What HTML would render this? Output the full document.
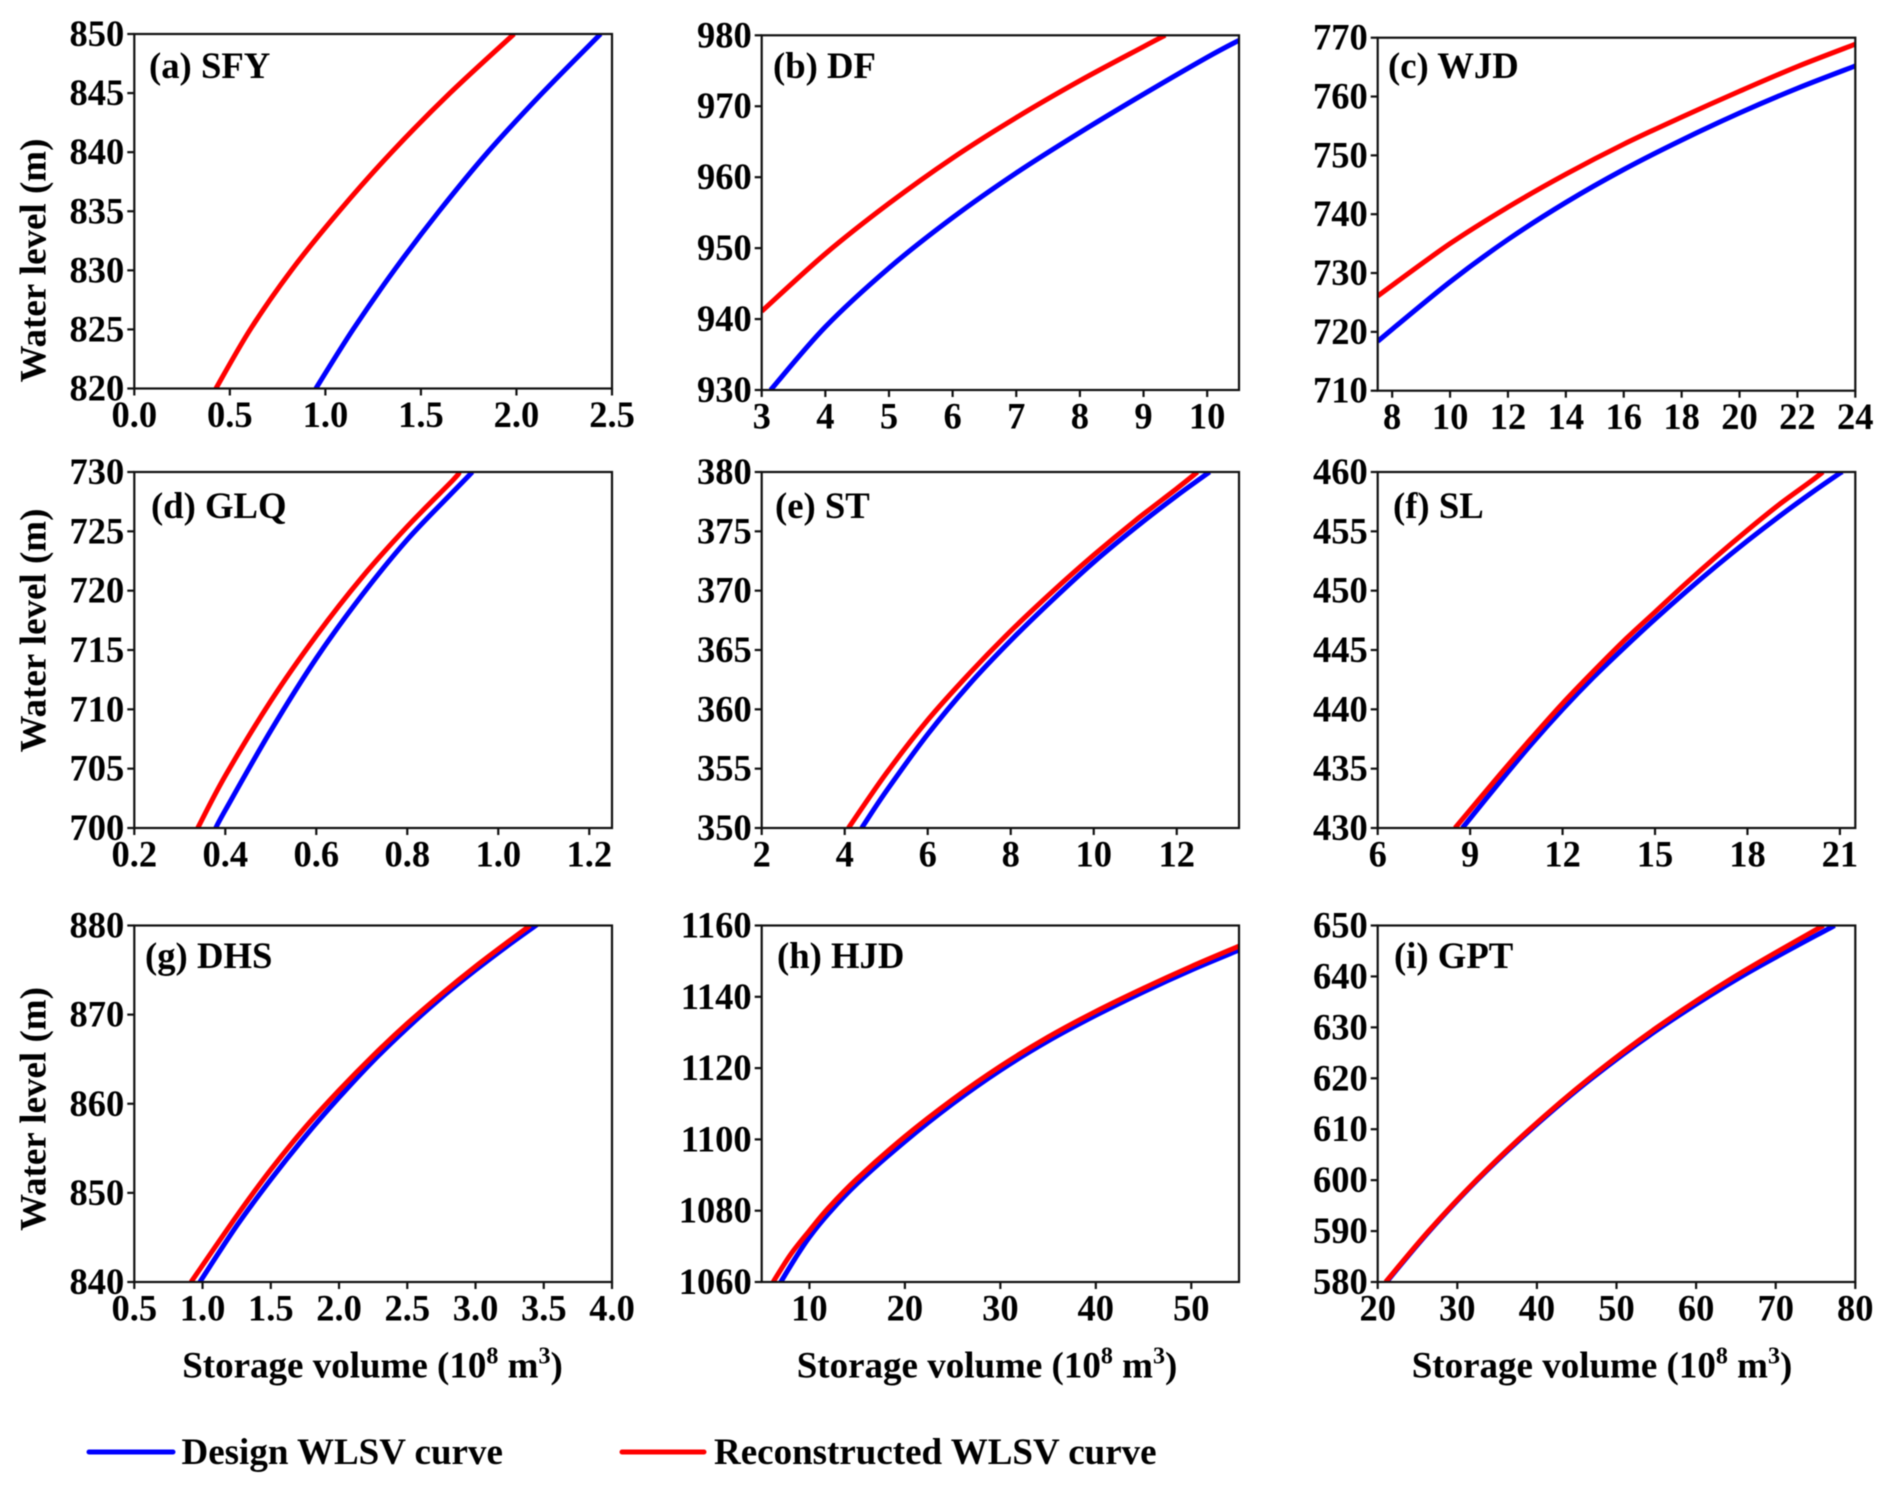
<!DOCTYPE html>
<html lang="en">
<head>
<meta charset="utf-8">
<title>Water level and storage volume curves</title>
<style>
html,body{margin:0;padding:0;background:#fff;width:1892px;height:1491px;overflow:hidden}
svg{display:block;filter:blur(.45px)}
text{font-family:"Liberation Serif","DejaVu Serif",serif;font-weight:bold;font-size:36.5px;fill:#000}
text.big{font-size:37px}
text.label{font-size:36.7px}
</style>
</head>
<body>
<svg id="chart" xmlns="http://www.w3.org/2000/svg" width="1892" height="1491" viewBox="0 0 1892 1491">
  <rect x="0" y="0" width="1892" height="1491" fill="#fff"></rect>
  <g id="panels"></g>
  <g>
    <line x1="89" y1="1452" x2="173" y2="1452" stroke="#0000ff" stroke-width="5" stroke-linecap="round"></line>
    <text class="big" x="181.5" y="1464">Design WLSV curve</text>
    <line x1="622" y1="1452" x2="704" y2="1452" stroke="#ff0000" stroke-width="5" stroke-linecap="round"></line>
    <text class="big" x="714" y="1464">Reconstructed WLSV curve</text>
  </g>
</svg>
<script>
// ---- Tick labels ----
const aXTicks = ['0.0','0.5','1.0','1.5','2.0','2.5'];
const aYTicks = ['820','825','830','835','840','845','850'];
const bXTicks = ['3','4','5','6','7','8','9','10'];
const bYTicks = ['930','940','950','960','970','980'];
const cXTicks = ['8','10','12','14','16','18','20','22','24'];
const cYTicks = ['710','720','730','740','750','760','770'];
const dXTicks = ['0.2','0.4','0.6','0.8','1.0','1.2'];
const dYTicks = ['700','705','710','715','720','725','730'];
const eXTicks = ['2','4','6','8','10','12'];
const eYTicks = ['350','355','360','365','370','375','380'];
const fXTicks = ['6','9','12','15','18','21'];
const fYTicks = ['430','435','440','445','450','455','460'];
const gXTicks = ['0.5','1.0','1.5','2.0','2.5','3.0','3.5','4.0'];
const gYTicks = ['840','850','860','870','880'];
const hXTicks = ['10','20','30','40','50'];
const hYTicks = ['1060','1080','1100','1120','1140','1160'];
const iXTicks = ['20','30','40','50','60','70','80'];
const iYTicks = ['580','590','600','610','620','630','640','650'];

// ---- Series values (storage volume, water level) ----
const aDesignStorage = [0.95,1.145,1.36,1.595,1.85,2.135,2.44];
const aDesignLevel   = [820,825,830,835,840,845,850];
const aReconStorage  = [0.427,0.607,0.822,1.072,1.347,1.652,1.987];
const aReconLevel    = [820,825,830,835,840,845,850];

const bDesignStorage = [3.14,4,5,6,7,8,9,10,10.5];
const bDesignLevel   = [930,938.9,947.2,954.3,960.6,966.3,971.7,976.9,979.3];
const bReconStorage  = [3,4,5,6,7,8,9,9.34];
const bReconLevel    = [941.1,949.2,956.3,962.7,968.4,973.6,978.4,980];

const cDesignStorage = [7.5,10,12,14,16,18,20,22,24];
const cDesignLevel   = [718.4,728.5,735.7,742.0,747.6,752.6,757.2,761.4,765.2];
const cReconStorage  = [7.5,10,12,14,16,18,20,22,24];
const cReconLevel    = [726.1,735.0,741.2,746.8,751.9,756.5,760.9,765.1,768.9];

const dDesignStorage = [0.379,0.4,0.5,0.6,0.7,0.8,0.9,0.943];
const dDesignLevel   = [700,701.5,708.2,714.3,719.6,724.3,728.3,730];
const dReconStorage  = [0.3395,0.4,0.5,0.6,0.7,0.8,0.9,0.915];
const dReconLevel    = [700,704.4,710.7,716.2,721.1,725.4,729.3,730];

const eDesignStorage = [4.41,5,6,7,8,9,10,11,12,12.79];
const eDesignLevel   = [350,353.1,357.9,362.1,365.8,369.2,372.4,375.3,378,380];
const eReconStorage  = [4.09,5,6,7,8,9,10,11,12,12.5];
const eReconLevel    = [350,354.6,359.1,363,366.6,369.9,373,375.9,378.6,380];

const fDesignStorage = [8.75,10,11,12,13,14,15,16,17,18,19,20,21,21.08];
const fDesignLevel   = [430,434,437.1,440,442.7,445.2,447.6,449.9,452.1,454.2,456.2,458.1,459.9,460];
const fReconStorage  = [8.51,10,11,12,13,14,15,16,17,18,19,20,20.45];
const fReconLevel    = [430,434.6,437.6,440.5,443.2,445.8,448.2,450.6,452.9,455.1,457.2,459.1,460];

const gDesignStorage = [0.98,1.25,1.5,1.75,2,2.25,2.5,2.75,3,3.25,3.46];
const gDesignLevel   = [840,846.3,851.5,856.3,860.7,864.8,868.5,871.9,875,877.9,880.2];
const gReconStorage  = [0.916,1.25,1.5,1.75,2,2.25,2.5,2.75,3,3.25,3.40];
const gReconLevel    = [840,847.4,852.6,857.3,861.5,865.4,869,872.3,875.4,878.3,880];

const hDesignStorage = [7.0,8.5,10,12,15,20,25,30,35,40,45,50,55];
const hDesignLevel   = [1060,1066.6,1072.6,1079.2,1087.6,1099.4,1110,1119.4,1127.6,1134.8,1141.4,1147.5,1153.1];
const hReconStorage  = [6.2,8.0,10,12,15,20,25,30,35,40,45,50,55];
const hReconLevel    = [1060,1067.6,1074.4,1080.8,1089,1100.8,1111.2,1120.5,1128.7,1135.9,1142.4,1148.5,1154.2];

const iDesignStorage = [21.1,26.5,32.5,39.3,46.9,55.6,65.7,77.4];
const iDesignLevel   = [580,590,600,610,620,630,640,650];
const iReconStorage  = [21,26.4,32.4,39.1,46.6,55.1,64.9,76];
const iReconLevel    = [580,590,600,610,620,630,640,650];

// ---- Panel layout ----
const panels = [
  {id:'a',title:'(a) SFY',box:[134.3,612,34,388.5],xd:[0,2.5],xt:aXTicks,yt:aYTicks,ds:aDesignStorage,dl:aDesignLevel,rs:aReconStorage,rl:aReconLevel,lx:149,ly:78,yTitle:260.5},
  {id:'b',title:'(b) DF',box:[761.7,1239,35.3,390],xd:[3,10.5],xt:bXTicks,yt:bYTicks,ds:bDesignStorage,dl:bDesignLevel,rs:bReconStorage,rl:bReconLevel,lx:773,ly:78},
  {id:'c',title:'(c) WJD',box:[1377.7,1855.3,37.7,390.7],xd:[7.5,24],xt:cXTicks,yt:cYTicks,ds:cDesignStorage,dl:cDesignLevel,rs:cReconStorage,rl:cReconLevel,lx:1388,ly:78},
  {id:'d',title:'(d) GLQ',box:[134.3,612,472,828],xd:[0.2,1.25],xt:dXTicks,yt:dYTicks,ds:dDesignStorage,dl:dDesignLevel,rs:dReconStorage,rl:dReconLevel,lx:151,ly:518,yTitle:630.5},
  {id:'e',title:'(e) ST',box:[761.7,1239,472,828],xd:[2,13.5],xt:eXTicks,yt:eYTicks,ds:eDesignStorage,dl:eDesignLevel,rs:eReconStorage,rl:eReconLevel,lx:775,ly:518},
  {id:'f',title:'(f) SL',box:[1377.7,1855.3,472,828],xd:[6,21.5],xt:fXTicks,yt:fYTicks,ds:fDesignStorage,dl:fDesignLevel,rs:fReconStorage,rl:fReconLevel,lx:1393,ly:518},
  {id:'g',title:'(g) DHS',box:[134.3,612,925.5,1282],xd:[0.5,4],xt:gXTicks,yt:gYTicks,ds:gDesignStorage,dl:gDesignLevel,rs:gReconStorage,rl:gReconLevel,lx:145,ly:968,yTitle:1109,xTitle:372.5},
  {id:'h',title:'(h) HJD',box:[761.7,1239,925.5,1282],xd:[5,55],xt:hXTicks,yt:hYTicks,ds:hDesignStorage,dl:hDesignLevel,rs:hReconStorage,rl:hReconLevel,lx:777,ly:968,xTitle:987},
  {id:'i',title:'(i) GPT',box:[1377.7,1855.3,925.5,1282],xd:[20,80],xt:iXTicks,yt:iYTicks,ds:iDesignStorage,dl:iDesignLevel,rs:iReconStorage,rl:iReconLevel,lx:1394,ly:968,xTitle:1602}
];

const NS = 'http://www.w3.org/2000/svg';
const root = document.getElementById('panels');

function make(tag, attrs, parent, text) {
  const el = document.createElementNS(NS, tag);
  for (const k in attrs) el.setAttribute(k, attrs[k]);
  if (text !== undefined) el.textContent = text;
  parent.appendChild(el);
  return el;
}

function smoothPath(pts) {
  let d = 'M' + pts[0][0].toFixed(2) + ' ' + pts[0][1].toFixed(2);
  for (let i = 0; i < pts.length - 1; i++) {
    const p0 = pts[Math.max(i - 1, 0)], p1 = pts[i], p2 = pts[i + 1], p3 = pts[Math.min(i + 2, pts.length - 1)];
    const c1x = p1[0] + (p2[0] - p0[0]) / 6, c1y = p1[1] + (p2[1] - p0[1]) / 6;
    const c2x = p2[0] - (p3[0] - p1[0]) / 6, c2y = p2[1] - (p3[1] - p1[1]) / 6;
    d += 'C' + c1x.toFixed(2) + ' ' + c1y.toFixed(2) + ' ' + c2x.toFixed(2) + ' ' + c2y.toFixed(2) + ' ' + p2[0].toFixed(2) + ' ' + p2[1].toFixed(2);
  }
  return d;
}

panels.forEach(function (p) {
  const left = p.box[0], right = p.box[1], top = p.box[2], bottom = p.box[3];
  const yMin = parseFloat(p.yt[0]), yMax = parseFloat(p.yt[p.yt.length - 1]);
  const sx = function (v) { return left + (v - p.xd[0]) / (p.xd[1] - p.xd[0]) * (right - left); };
  const sy = function (v) { return bottom - (v - yMin) / (yMax - yMin) * (bottom - top); };

  const g = make('g', {}, root);
  
  

  const defs = make('defs', {}, g);
  const clip = make('clipPath', {id: 'clip-' + p.id}, defs);
  make('rect', {x: left, y: top, width: right - left, height: bottom - top}, clip);

  const design = make('path', {d: smoothPath(p.ds.map(function (v, i) { return [sx(v), sy(p.dl[i])]; })), fill: 'none', stroke: '#0000ff', 'stroke-width': 5, 'clip-path': 'url(#clip-' + p.id + ')'}, g);
  
  

  const recon = make('path', {d: smoothPath(p.rs.map(function (v, i) { return [sx(v), sy(p.rl[i])]; })), fill: 'none', stroke: '#ff0000', 'stroke-width': 5, 'clip-path': 'url(#clip-' + p.id + ')'}, g);
  
  

  const frame = make('rect', {x: left, y: top, width: right - left, height: bottom - top, fill: 'none', stroke: '#111', 'stroke-width': 2.2}, g);
  
  

  p.xt.forEach(function (label) {
    const x = sx(parseFloat(label));
    const tick = make('line', {x1: x, y1: bottom, x2: x, y2: bottom + 7, stroke: '#111', 'stroke-width': 2.2}, g);
    
    
    const t = make('text', {x: x, y: bottom + 38.5, 'text-anchor': 'middle'}, g, label);
    
    
  });

  p.yt.forEach(function (label) {
    const y = sy(parseFloat(label));
    const tick = make('line', {x1: left - 7, y1: y, x2: left, y2: y, stroke: '#111', 'stroke-width': 2.2}, g);
    
    
    const t = make('text', {x: left - 10, y: y + 12, 'text-anchor': 'end'}, g, label);
    
    
  });

  const title = make('text', {x: p.lx, y: p.ly, class: 'label'}, g, p.title);
  
  

  if (p.yTitle) {
    const yt = make('text', {x: 0, y: 0, class: 'big', 'text-anchor': 'middle', transform: 'translate(45.5 ' + p.yTitle + ') rotate(-90)'}, g, 'Water level (m)');
    
    
  }

  if (p.xTitle) {
    const xt = make('text', {x: p.xTitle, y: 1377.5, class: 'big', 'text-anchor': 'middle'}, g);
    
    
    make('tspan', {}, xt, 'Storage volume (10');
    make('tspan', {dy: -14, 'font-size': 24}, xt, '8');
    make('tspan', {dy: 14}, xt, ' m');
    make('tspan', {dy: -14, 'font-size': 24}, xt, '3');
    make('tspan', {dy: 14}, xt, ')');
  }
});
</script>
</body>
</html>
